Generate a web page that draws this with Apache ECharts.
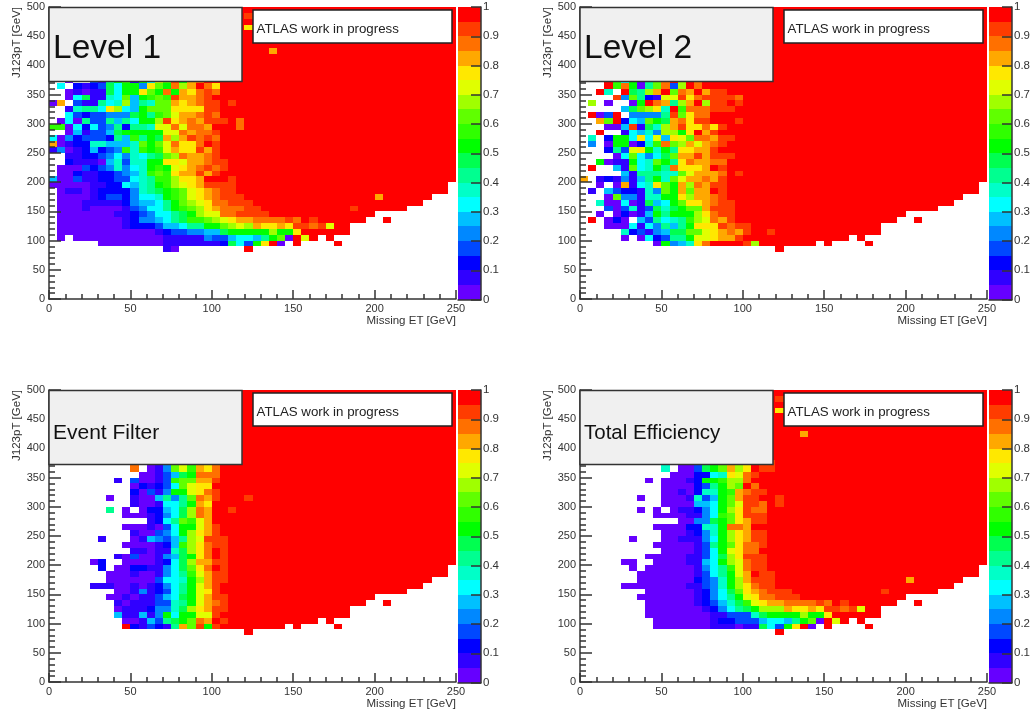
<!DOCTYPE html>
<html><head><meta charset="utf-8">
<script src="https://cdn.jsdelivr.net/npm/echarts@6/dist/echarts.min.js"></script>
<style>html,body{margin:0;padding:0;background:#fff}#c{width:1034px;height:713px;filter:blur(0.5px)}</style>
</head><body><div id="c"></div>
<script>
// Efficiency bands: one letter per 5 GeV bin, 20 colour bands, "." = empty bin
const bandColors=['#6600ff','#3000ff','#0000ff','#0048ff','#0088ff','#00c0ff','#00ffff','#00ffc8','#00ff90','#00ff50',
  '#00ff00','#30ff00','#60ff00','#a0ff00','#e0ff00','#ffe800','#ffa800','#ff7000','#ff3c00','#ff0000'];
const bandKeys='0123456789abcdefghij';
const colorbarBands=[0,1,2,3,4,5,6,7,8,9,10,11,12,13,14,15,16,17,18,19];
const j=n=>'j'.repeat(n);
const commonTail={190:j(24),180:j(24),170:j(22),160:j(21),150:j(19),140:j(15),130:j(14)+'..j',120:j(12),110:j(12),100:j(8)+'.j',90:'jjjj.j....j',80:''};
const rowY=[370,360,350,340,330,320,310,300,290,280,270,260,250,240,230,220,210,200,190,180,170,160,150,140,130,120,110,100,90,80];
const level1Rows=["..0..318ab1a6eciagh",".6.212396aa4fcahdgjhf","..0101196aafcahagfhih","..0691176c5abcbigghi","0g.311867d587ccgfghiiji","..17886fd65acccffffii",
"..632334449a8bcegghih",".0608338586aadifghgiiijh","bb06263482887eehehhgjjjh","..0513359aaaaaeehghhi","6042333285b8a9gdgihih","g0122775557cacehffhji",
"140125234b7babegffigi","..112234647689cdhgghi","..2111057377aaffegghii",".00032347467abaefghihi",".00211223457bcbfggigi","5003112233678bbdffgjjji",
"0000011226578abdefgiiii",".0110122224789abcefghii",".0000123324667abcefghiii",".00011111245568acdefhhiii",".00010000134668abcdfghhhi|i",".0000000112346689adeehhii|ii",
".0000000012445689bbcdefgg|hhhhihjij",".000000001222355688aacded|gffgfiihiej",".00000000000012334455 9aaa|aadaafj".replace(' ',''),".0.0000000000011111433566|58ac0jej.j",
"......0000000011111119 63|afj0.j....j".replace('9 63','2963'),"..............10........j"];
const level1Spots=[[40,170,'g'],[37,150,'i'],[24,460,'f'],[24,480,'i'],[27,420,'g']];
const level2Rows=["...jb6a08chjdjhj","...jbha08ch3djhj","..j7.j98dgjchgjgii","....i4c821eeifhiiiih",".d.0..0ajhg8dgjdiiji",".....59cdf7jbhhhiii",
".j03j.44448icfhh","..gcj265ca9ghfiijjji","...005i197dgiffhfi","..j..16574ddafjgi",".7.2aa6f6e5fechhgii",".4.0aa027bhcdgeghi",
"...283efa7a8ffggi","....06c6469cggigiii","..a011a67ca8fhgghh",".j..51c67a8hfffgji",".....5188877ceggghji","g.1214158a7cegghgi",
"..0.0g167fcagdhgii",".1.5322174cagcggji","...0c44177aafdgghi","..700601956acffghii","...303713979accgiii","..0.02015a8aaadfhii",
".j.020.538678bdehgi","...0006164858afffihii",".....72314599ccefghgijji",".....0.062388aeefggi",".........0a457fhjjjjidj","........................j"];
const level2Spots=[];
const filterRows=["..........h.014cebgfh","..........h.014cebgfh","...........001359ahhh","........1.30013bccggi","..........021236ceff","..........20314aaefhi",
".......0..1005848chgijjji","..........1001668agfj",".......8.0.022569dhgjji",".........00012469dhg","............1268cbeg",".........0001036aaegi",
"..........100346adfgi","......1...0154358deiii",".........0000125bdfhii","..........1101179dfhji","........103001459afhji",".....02..00001269dggii",
"......2.002211469cfhji",".......0001001468begii",".......0000003667adgii",".....111001012468aegi","........001412368aefi",".......0010113569aegii",
"........101113378aeghi","........011124479dfgii","........511514a6aaeei",".........0015389achgji",".........j213218gciai","........................j"];
const filterSpots=[];
const totalRows=["..........7.0039acgdfjii","..........7.0039acgdfjii","...........0002267fehi","........0.00012aabddh","..........0000238adcjh","..........0010277abghii",
".......0..0001735acgiijji","..........0000556aceiihji",".......0.0.011246adfihh",".........00001146bcfiii","............00449acfgii",".........00002277ahhgj",
"..........0001247adfgii","......0...0011146adfgii",".........00000138acfhhi","..........0000136aefhhj","........0000011369dfiii",".....00..00001156adehii",
"......0.0000001468behii",".......00000001368aegjii",".......00000002347adgiii",".....0000000011347adfhii","........00000012469cfghii|i",".......000000012468aefhhi|ii",
"........000000123579befgg|hhhhihjij","........0000000124689addd|gffgfiihiej","........00000000113337a99|aadaafj".replace('a99','9aa'),".........0000000122333566|58ac0jej.j",
".........0000000111011963|afj0.j....j","........................j"];
const totalSpots=level1Spots;

const panelTitles=['Level 1','Level 2','Event Filter','Total Efficiency'];
const titleSizes=[33.5,33.5,21,20.5];
const xAxisLabel='Missing ET [GeV]', yAxisLabel='J123pT [GeV]', noteText='ATLAS work in progress';

function buildCells(rows,spots){
  const out=[], spot={};
  spots.forEach(s=>spot[s[0]+'_'+s[1]]=s[2]);
  for(let y=490;y>=80;y-=10){
    const i=rowY.indexOf(y);
    let left='',over='';
    if(i>=0){[left,over='']=rows[i].split('|');}
    left=left.padEnd(25,'j');
    const base=y>190?j(25):(commonTail[y]||'').padEnd(25,'.');
    const tail=over+base.slice(over.length);
    const row=left+tail;
    for(let c=0;c<50;c++){
      const ch=spot[c+'_'+y]||row[c];
      if(ch==='.')continue;
      out.push([c*5,y,(bandKeys.indexOf(ch)+0.5)/20]);
    }
  }
  return out;
}
const cellItem=(params,api)=>{
  const x0=api.value(0),y0=api.value(1),v=api.value(2);
  const a=api.coord([x0,y0+10]),b=api.coord([x0+5,y0]);
  const xa=Math.round(a[0]),ya=Math.round(a[1]),xb=Math.round(b[0]),yb=Math.round(b[1]);
  return {type:'rect',shape:{x:xa,y:ya,width:xb-xa,height:yb-ya},style:{fill:bandColors[Math.min(19,Math.floor(v*20))]}};
};
const barItem=(params,api)=>{
  const k=api.value(0);
  const a=api.coord([0,(k+1)/20]),b=api.coord([1,k/20]);
  const ya=Math.round(a[1]),yb=Math.round(b[1]);
  return {type:'rect',shape:{x:a[0],y:ya,width:b[0]-a[0],height:yb-ya},style:{fill:bandColors[k]}};
};
const axisCol='#333', textCol='#333';
const font='"Liberation Sans", Arial, sans-serif';
const offs=[[0,0],[531,0],[0,383],[531,383]];
const allRows=[[level1Rows,level1Spots],[level2Rows,level2Spots],[filterRows,filterSpots],[totalRows,totalSpots]];
const grid=[],xAxis=[],yAxis=[],series=[],graphic=[];
offs.forEach((o,i)=>{
  const L=49+o[0],T=7+o[1];
  grid.push({left:L,top:T,width:407,height:292});
  const line={lineStyle:{color:axisCol,width:1.5}};
  xAxis.push({type:'value',gridIndex:grid.length-1,min:0,max:250,interval:50,splitLine:{show:false},z:5,
    axisLine:{show:true,onZero:false,...line},axisTick:{show:true,inside:true,length:9,...line},
    minorTick:{show:true,splitNumber:5,length:5,...line},minorSplitLine:{show:false},
    axisLabel:{color:textCol,fontSize:11,fontFamily:font,margin:4},
    name:xAxisLabel,nameLocation:'end',nameGap:0,nameTextStyle:{color:textCol,fontSize:11.5,fontFamily:font,align:'right',verticalAlign:'top',padding:[16,0,0,0]}});
  yAxis.push({type:'value',gridIndex:grid.length-1,min:0,max:500,interval:50,splitLine:{show:false},z:5,
    axisLine:{show:true,onZero:false,...line},axisTick:{show:true,inside:true,length:12,...line},
    minorTick:{show:true,splitNumber:5,length:6,...line},minorSplitLine:{show:false},
    axisLabel:{color:textCol,fontSize:11,fontFamily:font,margin:4},
    name:yAxisLabel,nameLocation:'end',nameGap:0,nameRotate:90,nameTextStyle:{color:textCol,fontSize:11.5,fontFamily:font,align:'right',verticalAlign:'bottom',padding:[0,0,26,0]}});
  series.push({type:'custom',coordinateSystem:'cartesian2d',xAxisIndex:xAxis.length-1,yAxisIndex:yAxis.length-1,
    data:buildCells(allRows[i][0],allRows[i][1]),renderItem:cellItem,silent:true,z:2,animation:false,clip:false,encode:{x:0,y:1}});
  // colour bar
  grid.push({left:458+o[0],top:T,width:23,height:292.5});
  xAxis.push({type:'value',gridIndex:grid.length-1,min:0,max:1,show:true,axisLabel:{show:false},axisTick:{show:false},splitLine:{show:false},z:5,
    axisLine:{show:true,onZero:false,...line}});
  yAxis.push({type:'value',gridIndex:grid.length-1,min:0,max:1,interval:0.1,position:'right',splitLine:{show:false},z:5,
    axisLine:{show:true,onZero:false,...line},axisTick:{show:true,inside:true,length:10,...line},
    axisLabel:{color:textCol,fontSize:11.5,fontFamily:font,margin:2}});
  series.push({type:'custom',coordinateSystem:'cartesian2d',xAxisIndex:xAxis.length-1,yAxisIndex:yAxis.length-1,
    data:colorbarBands.map(b=>[b]),renderItem:barItem,silent:true,z:2,animation:false,encode:{y:0}});
  // title box and note box
  graphic.push({type:'rect',z:20,shape:{x:L,y:T+0.5,width:193,height:74},style:{fill:'#f0f0f0',stroke:'#333',lineWidth:1.5}});
  graphic.push({type:'text',z:21,style:{x:L+4,y:T+(i<2?42:43),text:panelTitles[i],fontSize:titleSizes[i],fontFamily:font,fill:'#111',verticalAlign:'middle',align:'left'}});
  graphic.push({type:'rect',z:20,shape:{x:L+204,y:T+3,width:199,height:33},style:{fill:'#fff',stroke:'#222',lineWidth:1.5}});
  graphic.push({type:'text',z:21,style:{x:L+207.5,y:T+22,text:noteText,fontSize:13.3,fontFamily:font,fill:'#222',verticalAlign:'middle',align:'left'}});
});
const chart=echarts.init(document.getElementById('c'),null,{renderer:'canvas'});
chart.setOption({animation:false,backgroundColor:'#fff',grid,xAxis,yAxis,series,graphic});
</script></body></html>
